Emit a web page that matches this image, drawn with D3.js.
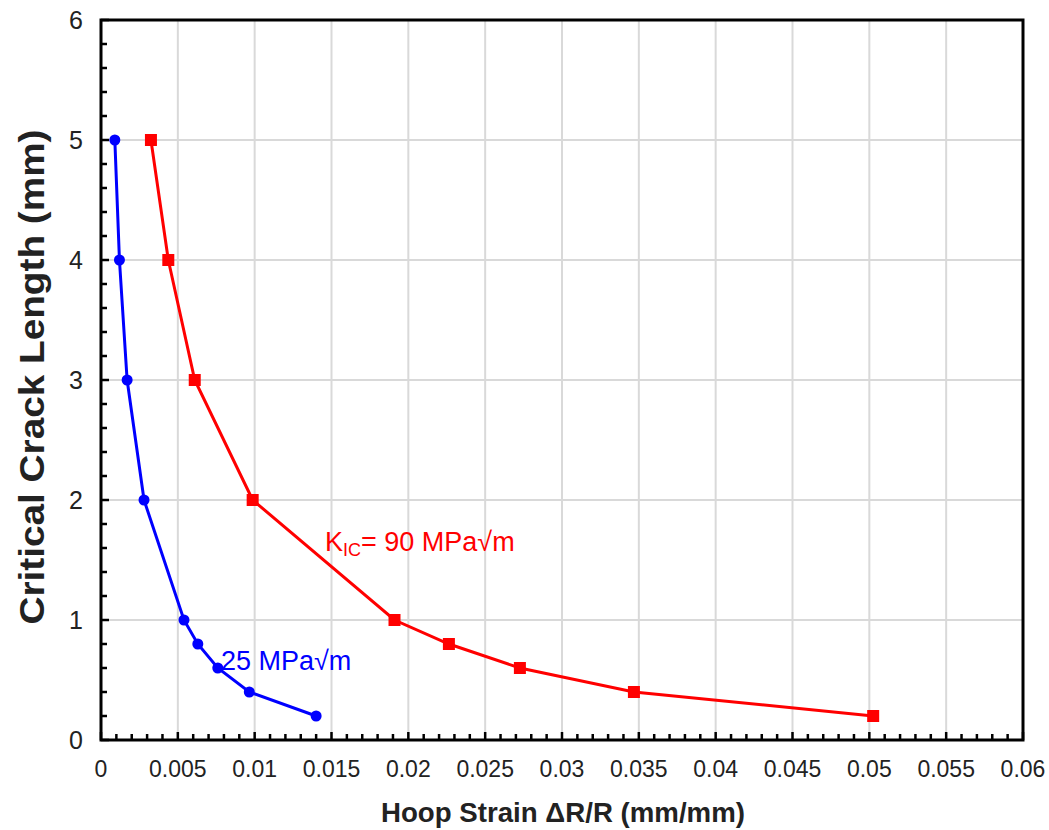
<!DOCTYPE html>
<html><head><meta charset="utf-8">
<script src="https://cdn.jsdelivr.net/npm/d3@7"></script>
<style>body{margin:0;background:#fff;font-family:"Liberation Sans",Arial,sans-serif;}</style>
</head><body><svg id="c" width="1049" height="830"></svg>
<script>
const crackLength = [5, 4, 3, 2, 1, 0.8, 0.6, 0.4, 0.2];
const strain25 = [0.0009, 0.0012, 0.0017, 0.0028, 0.0054, 0.0063, 0.0076, 0.00965, 0.0140];
const strain90 = [0.00325, 0.00438, 0.0061, 0.00987, 0.0191, 0.02264, 0.02726, 0.03468, 0.05025];
const xTicks = [0, 0.005, 0.01, 0.015, 0.02, 0.025, 0.03, 0.035, 0.04, 0.045, 0.05, 0.055, 0.06];
const yTicks = [0, 1, 2, 3, 4, 5, 6];

const svg = d3.select("#c");
const L = 101, R = 1023, T = 20, B = 740;
const x = d3.scaleLinear().domain([0, 0.06]).range([L, R]);
const y = d3.scaleLinear().domain([0, 6]).range([B, T]);

// grid
svg.append("g").selectAll("line").data(xTicks.slice(1, -1)).join("line")
  .attr("x1", d => x(d)).attr("x2", d => x(d)).attr("y1", T).attr("y2", B)
  .attr("stroke", "#d9d9d9").attr("stroke-width", 2);
svg.append("g").selectAll("line").data(yTicks.slice(1, -1)).join("line")
  .attr("y1", d => y(d)).attr("y2", d => y(d)).attr("x1", L).attr("x2", R)
  .attr("stroke", "#d9d9d9").attr("stroke-width", 2);

// frame
svg.append("rect").attr("x", L).attr("y", T).attr("width", R - L).attr("height", B - T)
  .attr("fill", "none").attr("stroke", "#000").attr("stroke-width", 3);

// minor ticks
const xMinor = d3.range(0, 61).map(i => i / 1000);
svg.append("g").selectAll("line").data(xMinor).join("line")
  .attr("x1", d => x(d)).attr("x2", d => x(d)).attr("y1", B).attr("y2", d => B - (Math.round(d * 1000) % 5 === 0 ? 8 : 6))
  .attr("stroke", "#000").attr("stroke-width", 2.5);
const yMinor = d3.range(0, 31).map(i => i / 5);
svg.append("g").selectAll("line").data(yMinor).join("line")
  .attr("y1", d => y(d)).attr("y2", d => y(d)).attr("x1", L).attr("x2", d => L + (Math.round(d * 5) % 5 === 0 ? 8 : 6))
  .attr("stroke", "#000").attr("stroke-width", 2.5);

// tick labels
svg.append("g").selectAll("text").data(xTicks).join("text")
  .attr("x", d => x(d)).attr("y", 777).attr("text-anchor", "middle")
  .attr("font-size", 23).attr("fill", "#222").text(d => d3.format("")(d));
svg.append("g").selectAll("text").data(yTicks).join("text")
  .attr("x", 83).attr("y", d => y(d) + 9).attr("text-anchor", "end")
  .attr("font-size", 25).attr("fill", "#222").text(d => d);

// axis titles
svg.append("text").attr("x", 563).attr("y", 822).attr("text-anchor", "middle")
  .attr("font-size", 28).attr("font-weight", "bold").attr("fill", "#222")
  .attr("textLength", 364).attr("lengthAdjust", "spacingAndGlyphs").text("Hoop Strain ΔR/R (mm/mm)");
svg.append("text").attr("transform", "translate(44,377) rotate(-90)").attr("text-anchor", "middle")
  .attr("font-size", 35).attr("font-weight", "bold").attr("fill", "#222")
  .attr("textLength", 495).attr("lengthAdjust", "spacingAndGlyphs").text("Critical Crack Length (mm)");

const line = d3.line().x(d => x(d[0])).y(d => y(d[1]));
const d25 = strain25.map((s, i) => [s, crackLength[i]]);
const d90 = strain90.map((s, i) => [s, crackLength[i]]);

svg.append("path").datum(d90).attr("d", line).attr("fill", "none").attr("stroke", "#ff0000").attr("stroke-width", 3);
svg.append("g").selectAll("rect").data(d90).join("rect")
  .attr("x", d => x(d[0]) - 6).attr("y", d => y(d[1]) - 6).attr("width", 12).attr("height", 12).attr("fill", "#ff0000");

svg.append("path").datum(d25).attr("d", line).attr("fill", "none").attr("stroke", "#0000ff").attr("stroke-width", 3);
svg.append("g").selectAll("circle").data(d25).join("circle")
  .attr("cx", d => x(d[0])).attr("cy", d => y(d[1])).attr("r", 5.5).attr("fill", "#0000ff");

// annotations
const t90 = svg.append("text").attr("x", 325).attr("y", 551).attr("font-size", 27).attr("fill", "#ff0000");
t90.append("tspan").text("K");
t90.append("tspan").attr("font-size", 18).attr("dy", 5).text("IC");
t90.append("tspan").attr("dy", -5).text("= 90 MPa√m");
svg.append("text").attr("x", 221).attr("y", 670).attr("font-size", 27).attr("fill", "#0000ff").text("25 MPa√m");
</script></body></html>
